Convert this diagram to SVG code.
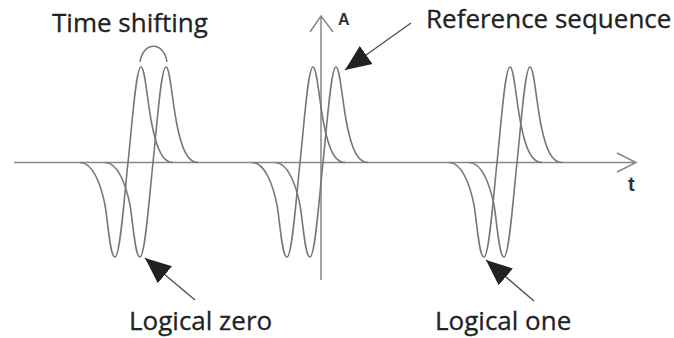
<svg xmlns="http://www.w3.org/2000/svg" xmlns:xlink="http://www.w3.org/1999/xlink" width="674" height="338" viewBox="0 0 674 338">
<style>
.axis{fill:none;stroke:#888;stroke-width:1.5}
.wave{fill:none;stroke:#777;stroke-width:1.6}
.ptr{fill:none;stroke:#555;stroke-width:1.5}
.lbl{font-family:"Open Sans","Liberation Sans",sans-serif;font-size:26px;fill:#222;stroke:#222;stroke-width:0.3}
.ax{font-family:"Liberation Sans",Arial,sans-serif;fill:#333}
</style>
<defs>
<path id="pulse" d="M-35,162.5 C-22,162.5 -14,185 -10,205 C-7,222 -5,257 0,257 C5,257 9,200 13,162.5 C17,125 21,67 26,67 C30,67 32,100 37,125 C42,150 48,162.5 58,162.5"/>
<marker id="head" viewBox="-26 -12 26 24" markerWidth="26" markerHeight="24" refX="0" refY="0" markerUnits="userSpaceOnUse" orient="auto">
<path d="M0,0 L-26,-11 L-26,11 z" fill="#222"/>
</marker>
</defs>
<rect width="674" height="338" fill="#fff"/>
<g id="axes">
<path class="axis" d="M14,162.5 H636 M617,153 L636,162.5 L617,172"/>
<path class="axis" d="M321,280 V16 M310,32 L321,16 L333,32"/>
<text class="ax" x="338" y="25" font-size="16" font-weight="bold">A</text>
<text class="ax" x="628" y="191" font-size="20" font-weight="bold">t</text>
</g>
<g id="pulse1">
<use href="#pulse" xlink:href="#pulse" class="wave" x="115"/>
<use href="#pulse" xlink:href="#pulse" class="wave" x="140"/>
<path class="wave" d="M140,62 C143,41 164,41 167,62"/>
</g>
<g id="pulse2">
<use href="#pulse" xlink:href="#pulse" class="wave" x="287"/>
<use href="#pulse" xlink:href="#pulse" class="wave" x="310"/>
</g>
<g id="pulse3">
<use href="#pulse" xlink:href="#pulse" class="wave" x="484"/>
<use href="#pulse" xlink:href="#pulse" class="wave" x="504"/>
</g>
<g id="label-time-shifting"><text class="lbl" x="52" y="32">Time shifting</text></g>
<g id="label-reference"><text class="lbl" x="426" y="28" font-size="24.5">Reference sequence</text></g>
<g id="label-zero"><text class="lbl" x="129" y="330">Logical zero</text></g>
<g id="label-one"><text class="lbl" x="435" y="330">Logical one</text></g>
<g id="connectors">
<line class="ptr" x1="411" y1="23" x2="345" y2="70" marker-end="url(#head)"/>
<line class="ptr" x1="195" y1="300" x2="145" y2="258" marker-end="url(#head)"/>
<line class="ptr" x1="534" y1="301" x2="486" y2="260" marker-end="url(#head)"/>
</g>
</svg>
